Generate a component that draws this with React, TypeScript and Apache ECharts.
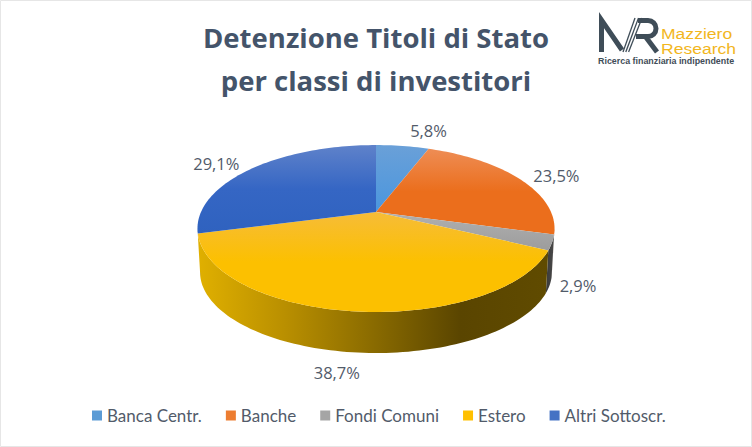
import React, { useEffect, useRef } from "react";
import * as echarts from "echarts";

const categories = ["Banca Centr.", "Banche", "Fondi Comuni", "Estero", "Altri Sottoscr."];
const shares = [5.8, 23.5, 2.9, 38.7, 29.1];
const shareLabels = ["5,8%", "23,5%", "2,9%", "38,7%", "29,1%"];
const titleLines = ["Detenzione Titoli di Stato", "per classi di investitori"];

const legendColors = ["#5B9BD5", "#ED7D31", "#A5A5A5", "#FFC000", "#4472C4"];
const topStops = [
  ["#6AA0D8", "#4A96DE"],
  ["#EE8D55", "#EB6E1C", "#EB6E1C"],
  ["#B0B0B0", "#9C9C9C"],
  ["#F6BC38", "#FCC000", "#FCC000"],
  ["#5F82CA", "#3566C4", "#2F62BF"],
];
const wallStops: string[][] = [
  ["#2F5F90", "#2F5F90"],
  ["#6B3A10", "#5A300C"],
  ["#3A3A3A", "#4A4A4A"],
  ["#E0B000", "#B98F00", "#8A6B00", "#5A4500", "#604B00"],
  ["#2A4A90", "#2A4A90"],
];
const labelOffsets = [
  [26, -15],
  [37, -3],
  [26, 43],
  [-18, 61],
  [-36, -5],
];
const textGrey = "#525B6A";

// Tilted-disc projection of the reference's perspective pie
const top = { cx: 376, cy: 212, a: 175, b: 80.2, k: 0.198 };
const bottom = { cx: 376, cy: 256, a: 172.5, b: 77.8, k: 0.198 };

function project(d: typeof top, deg: number, r = 1) {
  const t = (deg * Math.PI) / 180;
  const u = r * Math.sin(t);
  const v = r * Math.cos(t);
  const w = 1 + d.k * v;
  return [d.cx + (d.a * u) / w, d.cy - (d.b * v) / w];
}
function rim(d: typeof top, from: number, to: number) {
  const n = Math.max(2, Math.ceil(Math.abs(to - from) / 1.5));
  const pts: number[][] = [];
  for (let i = 0; i <= n; i++) pts.push(project(d, from + ((to - from) * i) / n));
  return pts;
}
function linear(colors: string[], horizontal: boolean) {
  return new echarts.graphic.LinearGradient(
    0,
    0,
    horizontal ? 1 : 0,
    horizontal ? 0 : 1,
    colors.map((color, i) => ({ offset: colors.length > 1 ? i / (colors.length - 1) : 0, color }))
  );
}

let acc = 0;
const starts = shares.map((s) => {
  const v = acc;
  acc += s;
  return v;
});
const total = acc;

echarts.graphic.registerShape(
  "mrStems",
  echarts.graphic.extendPath("M601.5 52 V20 L622 50 M638 20.5 H648 A8 8 0 0 1 648 36.5 H636 M645 36 L657 52", {})
);

export default function App() {
  const ref = useRef<HTMLDivElement>(null);
  useEffect(() => {
    document.body.style.margin = "0";
    const chart = echarts.init(ref.current!, undefined, { renderer: "svg" });
    const toDeg = (pct: number) => (pct / total) * 360;

    const wallSeries = {
      type: "custom",
      coordinateSystem: "none",
      silent: true,
      z: 1,
      data: shares.map((s, i) => [starts[i], s, i]),
      renderItem: (_p: any, api: any) => {
        const a = Math.max(toDeg(api.value(0)), 101);
        const b = Math.min(toDeg(api.value(0) + api.value(1)), 259);
        const idx = api.value(2);
        if (b <= a) return { type: "group", children: [] };
        const points = [...rim(top, a, b), ...rim(bottom, b, a)];
        return {
          type: "polygon",
          shape: { points },
          style: { fill: linear(wallStops[idx], true), stroke: "none" },
        };
      },
    };

    const topSeries = categories.map((name, i) => ({
      type: "custom",
      name,
      coordinateSystem: "none",
      silent: true,
      z: 2,
      itemStyle: { color: legendColors[i] },
      data: [[starts[i], shares[i], i]],
      renderItem: (_p: any, api: any) => {
        const a = toDeg(api.value(0));
        const b = toDeg(api.value(0) + api.value(1));
        const idx = api.value(2);
        const mid = project(top, (a + b) / 2);
        const points = [[top.cx, top.cy], ...rim(top, a, b)];
        return {
          type: "group",
          children: [
            {
              type: "polygon",
              shape: { points },
              style: { fill: linear(topStops[idx], false), stroke: "none" },
            },
            {
              type: "text",
              x: mid[0] + labelOffsets[idx][0],
              y: mid[1] + labelOffsets[idx][1],
              style: {
                text: shareLabels[idx],
                fill: textGrey,
                font: "16.5px 'Open Sans', sans-serif",
                align: "center",
                verticalAlign: "middle",
              },
            },
          ],
        };
      },
    }));

    const logoText = (text: string, x: number, y: number, font: string, fill: string, lineHeight: number, scaleX = 1) => ({
      type: "text",
      x,
      y,
      scaleX,
      style: { text, fill, font, lineHeight, verticalAlign: "middle" },
    });

    chart.setOption({
      animation: false,
      backgroundColor: "#ffffff",
      legend: {
        data: categories,
        left: 87,
        top: 402,
        icon: "rect",
        itemWidth: 10,
        itemHeight: 10,
        itemGap: 24,
        selectedMode: false,
        textStyle: { color: textGrey, fontFamily: "Lato, sans-serif", fontSize: 17 },
      },
      graphic: [
        {
          type: "rect",
          silent: true,
          shape: { x: 0.5, y: 0.5, width: 751, height: 446 },
          style: { fill: "none", stroke: "#E6E6E6", lineWidth: 1 },
        },
        {
          type: "text",
          x: 376,
          y: 37,
          style: {
            text: titleLines[0],
            fill: "#44546A",
            font: "bold 27.5px 'Open Sans', sans-serif",
            align: "center",
            verticalAlign: "middle",
          },
        },
        {
          type: "text",
          x: 376,
          y: 80,
          style: {
            text: titleLines[1],
            fill: "#44546A",
            font: "bold 27.5px 'Open Sans', sans-serif",
            align: "center",
            verticalAlign: "middle",
          },
        },
        {
          type: "mrStems",
          style: { fill: "none", stroke: "#3F4D58", lineWidth: 5 },
        },
        ...[0, 1, 2].map((i) => ({
          type: "line",
          shape: { x1: 623 + i * 2.8, y1: 52, x2: 635 + i * 3.5, y2: 18 },
          style: { stroke: "#3F4D58", lineWidth: 1.3 },
        })),
        logoText("Mazziero", 661, 33.5, "15px 'Liberation Sans', sans-serif", "#F2B61D", 15, 1.17),
        logoText("Research", 661, 48.5, "15px 'Liberation Sans', sans-serif", "#F2B61D", 15, 1.17),
        logoText("Ricerca finanziaria indipendente", 598, 60.5, "bold 8.9px 'Liberation Sans', sans-serif", "#3F4D58", 9),
      ],
      series: [wallSeries, ...topSeries],
    });
    return () => chart.dispose();
  }, []);
  return <div ref={ref} style={{ width: 752, height: 447 }} />;
}
